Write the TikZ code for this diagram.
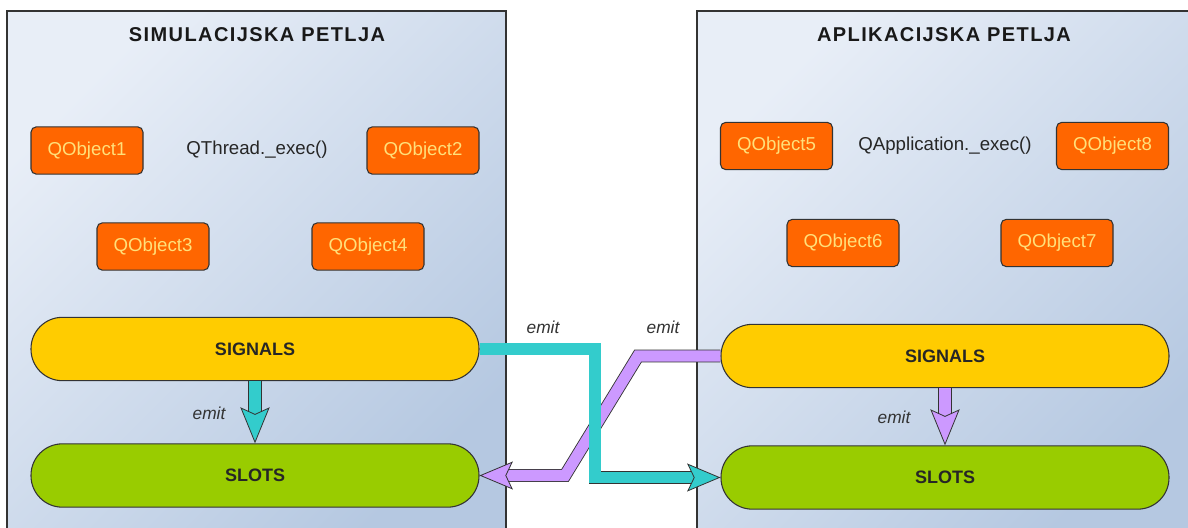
\documentclass[tikz,border=0pt]{standalone}
\usepackage{fontspec}
\setmainfont{Liberation Sans}
\newfontfamily\titlefont{Liberation Sans}[LetterSpace=7]
\usetikzlibrary{arrows.meta,calc}
\definecolor{boxtl}{HTML}{E8EEF7}
\definecolor{boxbr}{HTML}{B5C8E1}
\definecolor{qorange}{HTML}{FF6600}
\definecolor{qtext}{HTML}{FFE07A}
\definecolor{sigcol}{HTML}{FFCC00}
\definecolor{slotcol}{HTML}{99CC00}
\definecolor{cyancol}{HTML}{33CCCC}
\definecolor{purplecol}{HTML}{CC99FF}
\definecolor{edgecol}{HTML}{333333}
\begin{document}
\begin{tikzpicture}[x=0.75pt,y=-0.75pt,
  container/.style={draw=edgecol, line width=0.9pt, top color=boxtl, bottom color=boxbr, shading angle=45, inner sep=0pt},
  looptitle/.style={font=\titlefont\bfseries\fontsize{15}{18}\selectfont, text=black!90},
  qobj/.style={draw=edgecol, fill=qorange, rounded corners=4pt, minimum width=84pt, minimum height=35.5pt, text=qtext, font=\fontsize{14}{16}\selectfont, line width=0.8pt, inner sep=0pt},
  execlbl/.style={font=\fontsize{14}{16}\selectfont, text=black!85},
  pill/.style={draw=edgecol, rounded corners=23.5pt, minimum width=336pt, minimum height=47.5pt, font=\bfseries\fontsize{13.5}{16}\selectfont, text=black!85, line width=0.8pt},
  emitlbl/.style={font=\itshape\fontsize{13}{15}\selectfont, text=edgecol},
  fat/.style={line width=8.3pt, draw=#1, line join=miter,
    preaction={draw=edgecol, line width=9.6pt, -, shorten >=19pt},
    -{Stealth[length=25pt, width=21pt, inset=5pt, fill=#1, color=edgecol, line width=0.6pt]}},
  fatv/.style={line width=9.5pt, draw=#1, line join=miter,
    preaction={draw=edgecol, line width=10.8pt, -, shorten >=21pt},
    -{Stealth[length=27pt, width=22pt, inset=5pt, fill=#1, color=edgecol, line width=0.6pt]}}
]
\useasboundingbox (0,0) rectangle (1188,528);
\clip (0,0) rectangle (1188,528);
\fill[white] (0,0) rectangle (1188,528);

% containers
\node[container, minimum width=374.25pt, minimum height=396.75pt] (simloop) at (256.5,275.5) {};
\node[container, minimum width=374.25pt, minimum height=396.75pt] (apploop) at (946.5,275.5) {};
\node[looptitle] (simtitle) at (257,35) {SIMULACIJSKA PETLJA};
\node[looptitle] (apptitle) at (944,35) {APLIKACIJSKA PETLJA};

% left objects
\node[qobj] (q1) at (87,150.5) {QObject1};
\node[qobj] (q2) at (423,150.5) {QObject2};
\node[qobj] (q3) at (153,246.5) {QObject3};
\node[qobj] (q4) at (368,246.5) {QObject4};
\node[execlbl] (thr) at (257,150) {QThread.\_exec()};

% right objects
\node[qobj] (q5) at (776.5,146) {QObject5};
\node[qobj] (q8) at (1112.5,146) {QObject8};
\node[qobj] (q6) at (843,243) {QObject6};
\node[qobj] (q7) at (1057,243) {QObject7};
\node[execlbl] (app) at (945,146) {QApplication.\_exec()};

% signals / slots
\node[pill, fill=sigcol] (sigL) at (255,349) {SIGNALS};
\node[pill, fill=slotcol] (slotL) at (255,475.5) {SLOTS};
\node[pill, fill=sigcol] (sigR) at (945,356) {SIGNALS};
\node[pill, fill=slotcol] (slotR) at (945,477.5) {SLOTS};

% helper coordinates
\coordinate (cx) at (595,0);
\coordinate (p1) at (638,0);
\coordinate (p2) at (565,0);

% arrows
\draw[fatv=cyancol] (sigL.south) -- (slotL.north);
\draw[fatv=purplecol] (sigR.south) -- (slotR.north);
\draw[fat=purplecol] (sigR.west) -- (p1 |- sigR.west) -- (p2 |- slotL.east) -- (slotL.east);
\draw[fat=cyancol] (sigL.east) -| (cx |- slotR.west) -- (slotR.west);

% labels
\node[emitlbl] (e1) at (209,413) {emit};
\node[emitlbl] (e2) at (894,417) {emit};
\node[emitlbl] (e3) at (543,327) {emit};
\node[emitlbl] (e4) at (663,327) {emit};
\end{tikzpicture}
\end{document}
